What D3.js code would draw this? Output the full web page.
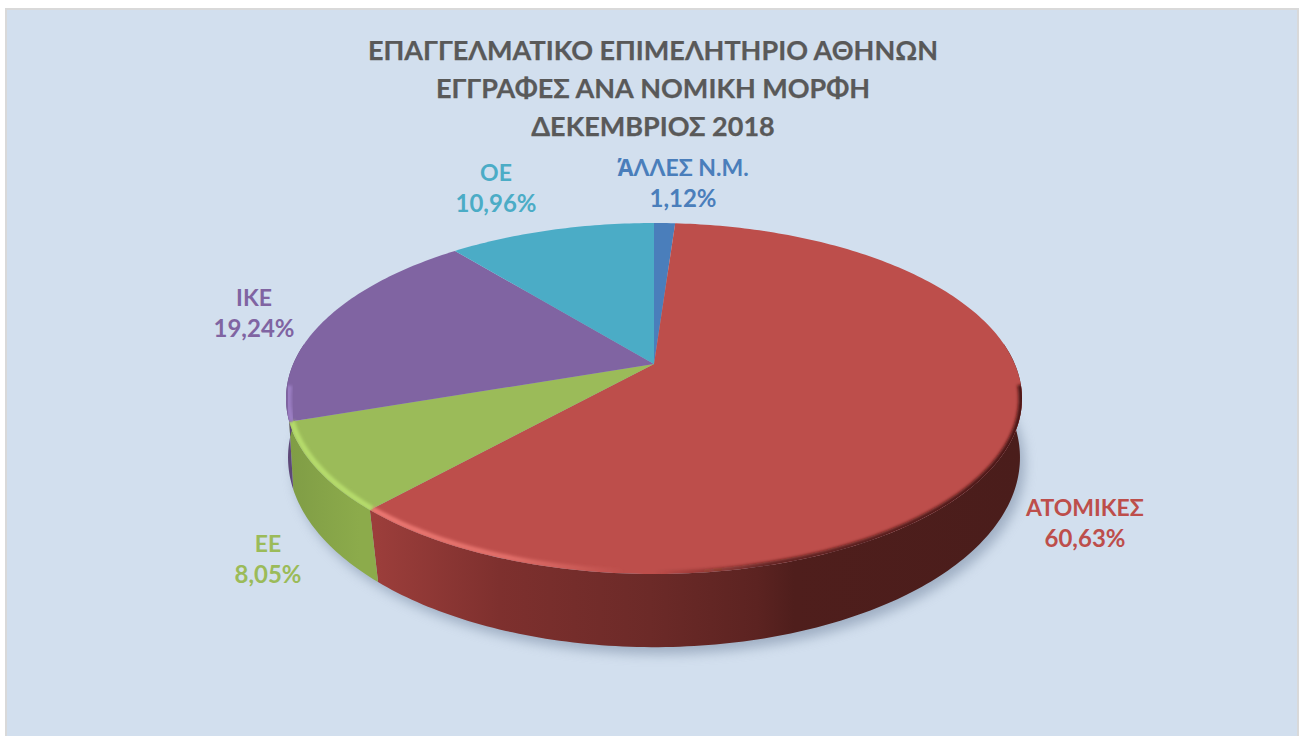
<!DOCTYPE html>
<html>
<head>
<meta charset="utf-8">
<script src="https://cdn.jsdelivr.net/npm/d3@7"></script>
<style>
html, body { margin: 0; padding: 0; background: #fff; }
svg { display: block; }
text { font-family: Lato, "Open Sans", sans-serif; font-weight: 700; text-anchor: middle; }
</style>
</head>
<body>
<div id="chart"></div>
<script>
const WIDTH = 1301;
const HEIGHT = 736;

const titleLines = ["ΕΠΑΓΓΕΛΜΑΤΙΚΟ ΕΠΙΜΕΛΗΤΗΡΙΟ ΑΘΗΝΩΝ", "ΕΓΓΡΑΦΕΣ ΑΝΑ ΝΟΜΙΚΗ ΜΟΡΦΗ", "ΔΕΚΕΜΒΡΙΟΣ 2018"];
const categories = ["\u0386ΛΛΕΣ Ν.Μ.", "ΑΤΟΜΙΚΕΣ", "ΕΕ", "ΙΚΕ", "ΟΕ"];
const shares = [1.12, 60.63, 8.05, 19.24, 10.96];
const shareLabels = ["1,12%", "60,63%", "8,05%", "19,24%", "10,96%"];

const colors = ["#4a7ebb", "#bd4e4b", "#9bbb59", "#8064a2", "#4bacc6"];
const rimColors = ["#4a7ebb", "#ee7a74", "#b6dc6c", "#9c7fc4", "#4bacc6"];
const labelPos = [[683, 176], [1085, 516], [268, 552], [254, 306], [496, 181]];

// perspective projection of the unit disc, the apex stays off the ellipse centre
const CX = 654;
const TOP = { y: 364, k: -0.1966, bx: 360.8, by: 168.7 };
const BASE = { y: 427, k: -0.161, bx: 361.2, by: 184.7 };

var project = function (a, r, disc) {
    var u = r * Math.sin(a), v = -r * Math.cos(a);
    var w = 1 + disc.k * v;
    return [CX + disc.bx * u / w, disc.y + disc.by * v / w];
};

var arcPoints = function (a0, a1, r, disc) {
    var n = Math.max(2, Math.ceil(Math.abs(a1 - a0) * 60));
    return d3.range(n + 1).map(function (i) {
        return project(a0 + (a1 - a0) * i / n, r, disc);
    });
};

var line = d3.line();

var svg = d3.select("#chart").append("svg")
    .attr("width", WIDTH)
    .attr("height", HEIGHT);

var defs = svg.append("defs");

var blur = function (id, dev) {
    defs.append("filter").attr("id", id)
        .attr("x", "-20%").attr("y", "-20%").attr("width", "140%").attr("height", "140%")
        .append("feGaussianBlur").attr("stdDeviation", dev);
};
blur("shadowBlur", 6);
blur("rimBlur", 1.8);

// shading runs left to right across the whole pie
var hGradient = function (id, stops) {
    var g = defs.append("linearGradient").attr("id", id)
        .attr("gradientUnits", "userSpaceOnUse")
        .attr("x1", 286).attr("x2", 1022).attr("y1", 0).attr("y2", 0);
    stops.forEach(function (s) {
        g.append("stop").attr("offset", s[0]).attr("stop-color", s[1]).attr("stop-opacity", s[2] === undefined ? 1 : s[2]);
    });
};
hGradient("wall1", [[0.12, "#9c3e3b"], [0.29, "#7e302e"], [0.495, "#6c2a28"], [0.64, "#5c2321"], [0.69, "#4f1e1c"], [1, "#4a1d1b"]]);
hGradient("wall2", [[0, "#7f9c45"], [0.1, "#8cab4b"]]);
hGradient("wall3", [[0, "#5d4878"], [1, "#5d4878"]]);
hGradient("darkRim", [[0.5, "#3a1210", 0], [0.66, "#3a1210", 0.7], [1, "#3a1210", 0.9]]);
hGradient("rim1", [[0.12, rimColors[1], 0.95], [0.3, rimColors[1], 0.75], [0.46, rimColors[1], 0]]);

// panel
svg.append("rect")
    .attr("x", 6).attr("y", 9).attr("width", 1292).attr("height", HEIGHT)
    .attr("fill", "#d2dfee")
    .attr("stroke", "#d9d9d9")
    .attr("stroke-width", 2);

var slices = d3.pie().sort(null).value(function (d) { return d; })(shares);

var FRONT_START = 0.5 * Math.PI;
var FRONT_END = 1.5 * Math.PI;

// ground shadow
svg.append("path")
    .attr("d", line(arcPoints(0, 2 * Math.PI, 1, BASE)) + "Z")
    .attr("transform", "translate(5,7)")
    .attr("fill", "#7f90a8")
    .attr("opacity", 0.6)
    .attr("filter", "url(#shadowBlur)");

// walls, only the part of each slice facing the viewer
var wallFill = ["url(#wall1)", "url(#wall1)", "url(#wall2)", "url(#wall3)", "url(#wall3)"];
svg.append("g").selectAll("path")
    .data(slices.filter(function (d) { return d.endAngle > FRONT_START && d.startAngle < FRONT_END; }))
    .enter().append("path")
    .attr("d", function (d) {
        var a0 = Math.max(d.startAngle, FRONT_START - 0.12), a1 = Math.min(d.endAngle, FRONT_END + 0.12);
        return line(arcPoints(a0, a1, 1, TOP).concat(arcPoints(a1, a0, 1, BASE))) + "Z";
    })
    .attr("fill", function (d) { return wallFill[d.index]; });

// top faces
svg.append("g").selectAll("path")
    .data(slices)
    .enter().append("path")
    .attr("d", function (d) {
        return line([[CX, TOP.y]].concat(arcPoints(d.startAngle, d.endAngle, 1, TOP))) + "Z";
    })
    .attr("fill", function (d) { return colors[d.index]; });

// bevel along the front edge
defs.append("clipPath").attr("id", "topClip")
    .append("path").attr("d", line(arcPoints(0, 2 * Math.PI, 1, TOP)) + "Z");

var bevel = svg.append("g").attr("clip-path", "url(#topClip)");

bevel.append("path")
    .attr("d", line(arcPoints(FRONT_START + 0.12, 1.1 * Math.PI, 1, TOP)))
    .attr("fill", "none")
    .attr("stroke", "url(#darkRim)")
    .attr("stroke-width", 7)
    .attr("filter", "url(#rimBlur)");

bevel.selectAll("path.rim")
    .data(slices.slice(1, 4))
    .enter().append("path")
    .attr("class", "rim")
    .attr("d", function (d) {
        var a1 = d.index == 3 ? d.startAngle + 0.2 : d.endAngle;
        return line(arcPoints(Math.max(d.startAngle, 1.02 * Math.PI), a1, 0.993, TOP));
    })
    .attr("fill", "none")
    .attr("stroke", function (d) { return d.index == 1 ? "url(#rim1)" : rimColors[d.index]; })
    .attr("stroke-width", 5.5)
    .attr("filter", "url(#rimBlur)");

// data labels, Lato has no tonos on the capital alpha so that glyph comes from Open Sans
var labels = svg.append("g").selectAll("g")
    .data(categories)
    .enter().append("g")
    .attr("transform", function (d, i) { return "translate(" + labelPos[i][0] + "," + labelPos[i][1] + ")"; })
    .attr("fill", function (d, i) { return colors[i]; })
    .style("font-size", "24px");
var names = labels.append("text").style("font-size", "23px");
names.append("tspan")
    .style("font-family", function (d) { return d[0] == "\u0386" ? "'Open Sans'" : null; })
    .text(function (d) { return d[0] == "\u0386" ? d[0] : ""; });
names.append("tspan")
    .text(function (d) { return d[0] == "\u0386" ? d.slice(1) : d; });
labels.append("text").attr("y", 31).text(function (d, i) { return shareLabels[i]; });

// title
svg.append("g").selectAll("text")
    .data(titleLines)
    .enter().append("text")
    .attr("x", 653)
    .attr("y", function (d, i) { return 60 + i * 38; })
    .attr("fill", "#595959")
    .attr("stroke", "#595959")
    .attr("stroke-width", 0.25)
    .style("font-size", "27px")
    .text(function (d) { return d; });
</script>
</body>
</html>
